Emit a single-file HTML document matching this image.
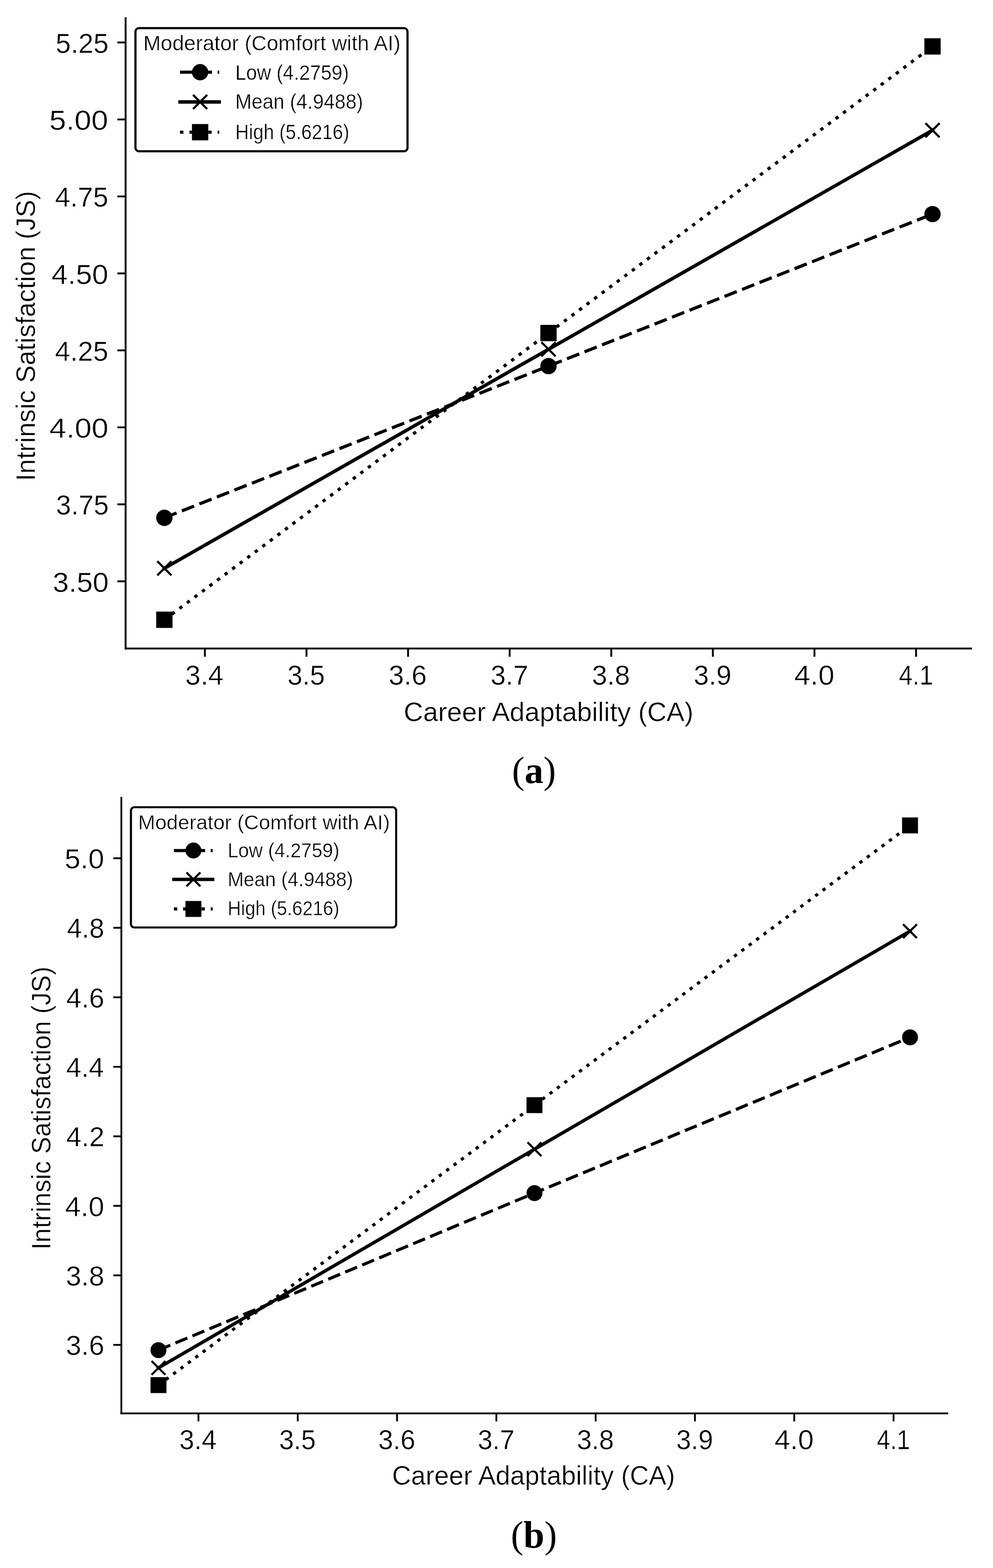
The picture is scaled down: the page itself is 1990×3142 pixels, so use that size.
<!DOCTYPE html><html><head><meta charset="utf-8"><title>Figure</title><style>html,body{margin:0;padding:0;background:#fff;}svg{display:block}.s{font-family:"Liberation Sans",Arial,sans-serif;stroke:#fff;stroke-width:0.5px}.c{font-family:"Liberation Serif","Times New Roman",serif}</style></head><body>
<svg width="1990" height="3142" viewBox="0 0 1990 3142">
<rect width="1990" height="3142" fill="#fff"/>
<rect x="249.85" y="34.6" width="3.7" height="1266.75"/>
<rect x="249.85" y="1297.65" width="1698.15" height="3.7"/>
<rect x="235.2" y="83.25" width="16.5" height="3.7"/>
<rect x="235.2" y="237.5" width="16.5" height="3.7"/>
<rect x="235.2" y="391.75" width="16.5" height="3.7"/>
<rect x="235.2" y="546" width="16.5" height="3.7"/>
<rect x="235.2" y="700.25" width="16.5" height="3.7"/>
<rect x="235.2" y="854.5" width="16.5" height="3.7"/>
<rect x="235.2" y="1008.75" width="16.5" height="3.7"/>
<rect x="235.2" y="1163" width="16.5" height="3.7"/>
<rect x="408.75" y="1299.5" width="3.7" height="16.5"/>
<rect x="612.35" y="1299.5" width="3.7" height="16.5"/>
<rect x="815.95" y="1299.5" width="3.7" height="16.5"/>
<rect x="1019.55" y="1299.5" width="3.7" height="16.5"/>
<rect x="1223.15" y="1299.5" width="3.7" height="16.5"/>
<rect x="1426.75" y="1299.5" width="3.7" height="16.5"/>
<rect x="1630.35" y="1299.5" width="3.7" height="16.5"/>
<rect x="1833.95" y="1299.5" width="3.7" height="16.5"/>
<g class="s">
<text x="111.62" y="105.95" font-size="56" textLength="106.07" lengthAdjust="spacingAndGlyphs">5.25</text>
<text x="98.87" y="260.2" font-size="56" textLength="117.89" lengthAdjust="spacingAndGlyphs">5.00</text>
<text x="110.34" y="414.45" font-size="56" textLength="106.76" lengthAdjust="spacingAndGlyphs">4.75</text>
<text x="103.36" y="568.7" font-size="56" textLength="113.72" lengthAdjust="spacingAndGlyphs">4.50</text>
<text x="110.34" y="722.95" font-size="56" textLength="106.76" lengthAdjust="spacingAndGlyphs">4.25</text>
<text x="99.01" y="877.2" font-size="56" textLength="118.16" lengthAdjust="spacingAndGlyphs">4.00</text>
<text x="112.33" y="1031.45" font-size="56" textLength="105.54" lengthAdjust="spacingAndGlyphs">3.75</text>
<text x="105.71" y="1185.7" font-size="56" textLength="112.15" lengthAdjust="spacingAndGlyphs">3.50</text>
<text x="371.36" y="1372.4" font-size="56" textLength="76.4" lengthAdjust="spacingAndGlyphs">3.4</text>
<text x="575.89" y="1372.4" font-size="56" textLength="75.23" lengthAdjust="spacingAndGlyphs">3.5</text>
<text x="779.01" y="1372.4" font-size="56" textLength="76.3" lengthAdjust="spacingAndGlyphs">3.6</text>
<text x="983.13" y="1372.4" font-size="56" textLength="75.61" lengthAdjust="spacingAndGlyphs">3.7</text>
<text x="1186.21" y="1372.4" font-size="56" textLength="76.27" lengthAdjust="spacingAndGlyphs">3.8</text>
<text x="1390.17" y="1372.4" font-size="56" textLength="75.76" lengthAdjust="spacingAndGlyphs">3.9</text>
<text x="1591.67" y="1372.4" font-size="56" textLength="80.39" lengthAdjust="spacingAndGlyphs">4.0</text>
<text x="1801.42" y="1372.4" font-size="56" textLength="68.43" lengthAdjust="spacingAndGlyphs">4.1</text>
<text x="809.08" y="1444.7" font-size="54.4" textLength="580.64" lengthAdjust="spacingAndGlyphs">Career Adaptability (CA)</text>
<text transform="translate(70.1,963.87) rotate(-90)" x="0" y="0" font-size="54.4" textLength="581.15" lengthAdjust="spacingAndGlyphs">Intrinsic Satisfaction (JS)</text>
</g>
<polyline points="329.4,1037.6 1099.2,733.6 1868.8,429" fill="none" stroke="#000" stroke-width="6.3" stroke-dasharray="26.33 11.39" stroke-linecap="butt" stroke-linejoin="round"/>
<circle cx="329.4" cy="1037.6" r="16.35"/>
<circle cx="1099.2" cy="733.6" r="16.35"/>
<circle cx="1868.8" cy="429" r="16.35"/>
<polyline points="329.4,1138.8 1099.2,699.9 1868.8,261" fill="none" stroke="#000" stroke-width="6.9" stroke-linecap="square" stroke-linejoin="round"/>
<path d="M315.2 1124.6L343.6 1153M315.2 1153L343.6 1124.6" stroke="#000" stroke-width="4.3" fill="none" stroke-linecap="butt"/>
<path d="M1085 685.7L1113.4 714.1M1085 714.1L1113.4 685.7" stroke="#000" stroke-width="4.3" fill="none" stroke-linecap="butt"/>
<path d="M1854.6 246.8L1883 275.2M1854.6 275.2L1883 246.8" stroke="#000" stroke-width="4.3" fill="none" stroke-linecap="butt"/>
<polyline points="329.4,1241.9 1099.2,667.3 1868.8,93" fill="none" stroke="#000" stroke-width="6.3" stroke-dasharray="6.8 12.06" stroke-linecap="butt" stroke-linejoin="round"/>
<rect x="313.05" y="1225.55" width="32.7" height="32.7"/>
<rect x="1082.85" y="650.95" width="32.7" height="32.7"/>
<rect x="1852.45" y="76.65" width="32.7" height="32.7"/>
<rect x="271.45" y="56.35" width="545.2" height="246.8" rx="7" ry="7" fill="#fff" stroke="#000" stroke-width="4.3"/>
<g class="s">
<text x="287.17" y="101.3" font-size="41.7" textLength="515.52" lengthAdjust="spacingAndGlyphs">Moderator (Comfort with AI)</text>
<text x="471.5" y="159.5" font-size="41.7" textLength="227.82" lengthAdjust="spacingAndGlyphs">Low (4.2759)</text>
<text x="471.47" y="217.9" font-size="41.7" textLength="256.28" lengthAdjust="spacingAndGlyphs">Mean (4.9488)</text>
<text x="471.61" y="278.8" font-size="41.7" textLength="228.53" lengthAdjust="spacingAndGlyphs">High (5.6216)</text>
</g>
<path d="M360.8 144.7H439.3" stroke="#000" stroke-width="6.3" stroke-dasharray="26.33 11.39"/>
<circle cx="401" cy="144.7" r="16.35"/>
<path d="M360.8 204.3H439.3" stroke="#000" stroke-width="6.9" stroke-linecap="square"/>
<path d="M386.8 190.1L415.2 218.5M386.8 218.5L415.2 190.1" stroke="#000" stroke-width="4.3" fill="none" stroke-linecap="butt"/>
<path d="M360.8 264.9H439.3" stroke="#000" stroke-width="6.3" stroke-dasharray="6.8 12.06"/>
<rect x="384.65" y="248.55" width="32.7" height="32.7"/>
<rect x="241.4" y="1596.8" width="3.6" height="1237.2"/>
<rect x="241.4" y="2830.4" width="1658.8" height="3.6"/>
<rect x="227.1" y="1718" width="16.1" height="3.6"/>
<rect x="227.1" y="1857.3" width="16.1" height="3.6"/>
<rect x="227.1" y="1996.6" width="16.1" height="3.6"/>
<rect x="227.1" y="2135.9" width="16.1" height="3.6"/>
<rect x="227.1" y="2275.2" width="16.1" height="3.6"/>
<rect x="227.1" y="2414.5" width="16.1" height="3.6"/>
<rect x="227.1" y="2553.8" width="16.1" height="3.6"/>
<rect x="227.1" y="2693.1" width="16.1" height="3.6"/>
<rect x="395.9" y="2832.2" width="3.6" height="16.1"/>
<rect x="594.9" y="2832.2" width="3.6" height="16.1"/>
<rect x="793.9" y="2832.2" width="3.6" height="16.1"/>
<rect x="992.9" y="2832.2" width="3.6" height="16.1"/>
<rect x="1191.9" y="2832.2" width="3.6" height="16.1"/>
<rect x="1390.9" y="2832.2" width="3.6" height="16.1"/>
<rect x="1589.9" y="2832.2" width="3.6" height="16.1"/>
<rect x="1788.9" y="2832.2" width="3.6" height="16.1"/>
<g class="s">
<text x="129.52" y="1740.1" font-size="54.7" textLength="79.31" lengthAdjust="spacingAndGlyphs">5.0</text>
<text x="134.17" y="1879.4" font-size="54.7" textLength="74.77" lengthAdjust="spacingAndGlyphs">4.8</text>
<text x="132.84" y="2018.7" font-size="54.7" textLength="76.17" lengthAdjust="spacingAndGlyphs">4.6</text>
<text x="132.86" y="2158" font-size="54.7" textLength="75.33" lengthAdjust="spacingAndGlyphs">4.4</text>
<text x="132.84" y="2297.3" font-size="54.7" textLength="76.53" lengthAdjust="spacingAndGlyphs">4.2</text>
<text x="130.51" y="2436.6" font-size="54.7" textLength="78.29" lengthAdjust="spacingAndGlyphs">4.0</text>
<text x="131.99" y="2575.9" font-size="54.7" textLength="77.02" lengthAdjust="spacingAndGlyphs">3.8</text>
<text x="131.99" y="2715.2" font-size="54.7" textLength="77.05" lengthAdjust="spacingAndGlyphs">3.6</text>
<text x="359.48" y="2903.5" font-size="54.7" textLength="74.57" lengthAdjust="spacingAndGlyphs">3.4</text>
<text x="559.39" y="2903.5" font-size="54.7" textLength="73.43" lengthAdjust="spacingAndGlyphs">3.5</text>
<text x="757.92" y="2903.5" font-size="54.7" textLength="74.47" lengthAdjust="spacingAndGlyphs">3.6</text>
<text x="957.43" y="2903.5" font-size="54.7" textLength="73.79" lengthAdjust="spacingAndGlyphs">3.7</text>
<text x="1155.92" y="2903.5" font-size="54.7" textLength="74.44" lengthAdjust="spacingAndGlyphs">3.8</text>
<text x="1355.28" y="2903.5" font-size="54.7" textLength="73.94" lengthAdjust="spacingAndGlyphs">3.9</text>
<text x="1552.23" y="2903.5" font-size="54.7" textLength="78.46" lengthAdjust="spacingAndGlyphs">4.0</text>
<text x="1757.23" y="2903.5" font-size="54.7" textLength="66.79" lengthAdjust="spacingAndGlyphs">4.1</text>
<text x="785.84" y="2975.2" font-size="53.1" textLength="566.9" lengthAdjust="spacingAndGlyphs">Career Adaptability (CA)</text>
<text transform="translate(100.9,2504.06) rotate(-90)" x="0" y="0" font-size="53.1" textLength="567.15" lengthAdjust="spacingAndGlyphs">Intrinsic Satisfaction (JS)</text>
</g>
<polyline points="317.6,2705.4 1071.1,2390.7 1823.7,2078.6" fill="none" stroke="#000" stroke-width="6.15" stroke-dasharray="25.74 11.13" stroke-linecap="butt" stroke-linejoin="round"/>
<circle cx="317.6" cy="2705.4" r="15.96"/>
<circle cx="1071.1" cy="2390.7" r="15.96"/>
<circle cx="1823.7" cy="2078.6" r="15.96"/>
<polyline points="317.6,2741 1071.1,2302.8 1823.7,1865.9" fill="none" stroke="#000" stroke-width="6.73" stroke-linecap="square" stroke-linejoin="round"/>
<path d="M303.74 2727.14L331.46 2754.86M303.74 2754.86L331.46 2727.14" stroke="#000" stroke-width="4.2" fill="none" stroke-linecap="butt"/>
<path d="M1057.24 2288.94L1084.96 2316.66M1057.24 2316.66L1084.96 2288.94" stroke="#000" stroke-width="4.2" fill="none" stroke-linecap="butt"/>
<path d="M1809.84 1852.04L1837.56 1879.76M1809.84 1879.76L1837.56 1852.04" stroke="#000" stroke-width="4.2" fill="none" stroke-linecap="butt"/>
<polyline points="317.6,2775.5 1071.1,2214.5 1823.7,1654" fill="none" stroke="#000" stroke-width="6.15" stroke-dasharray="6.65 11.79" stroke-linecap="butt" stroke-linejoin="round"/>
<rect x="301.64" y="2759.54" width="31.92" height="31.92"/>
<rect x="1055.14" y="2198.54" width="31.92" height="31.92"/>
<rect x="1807.74" y="1638.04" width="31.92" height="31.92"/>
<rect x="262.4" y="1617.5" width="531.5" height="241" rx="6.83" ry="6.83" fill="#fff" stroke="#000" stroke-width="4.2"/>
<g class="s">
<text x="276.74" y="1661.7" font-size="40.7" textLength="504.59" lengthAdjust="spacingAndGlyphs">Moderator (Comfort with AI)</text>
<text x="456.15" y="1717.5" font-size="40.7" textLength="224.03" lengthAdjust="spacingAndGlyphs">Low (4.2759)</text>
<text x="456.13" y="1775.5" font-size="40.7" textLength="251.57" lengthAdjust="spacingAndGlyphs">Mean (4.9488)</text>
<text x="456.27" y="1834.3" font-size="40.7" textLength="223.82" lengthAdjust="spacingAndGlyphs">High (5.6216)</text>
</g>
<path d="M348.5 1704.3H426.2" stroke="#000" stroke-width="6.15" stroke-dasharray="25.74 11.13"/>
<circle cx="387.6" cy="1704.3" r="15.96"/>
<path d="M348.5 1762.2H426.2" stroke="#000" stroke-width="6.73" stroke-linecap="square"/>
<path d="M373.74 1748.34L401.46 1776.06M373.74 1776.06L401.46 1748.34" stroke="#000" stroke-width="4.2" fill="none" stroke-linecap="butt"/>
<path d="M348.5 1821.4H426.2" stroke="#000" stroke-width="6.15" stroke-dasharray="6.65 11.79"/>
<rect x="371.64" y="1805.44" width="31.92" height="31.92"/>
<text x="1070" y="1569" class="c" font-size="75.5" text-anchor="middle">(<tspan font-weight="bold">a</tspan>)</text>
<text x="1070" y="3100.9" class="c" font-size="75.5" text-anchor="middle">(<tspan font-weight="bold">b</tspan>)</text>
</svg></body></html>
